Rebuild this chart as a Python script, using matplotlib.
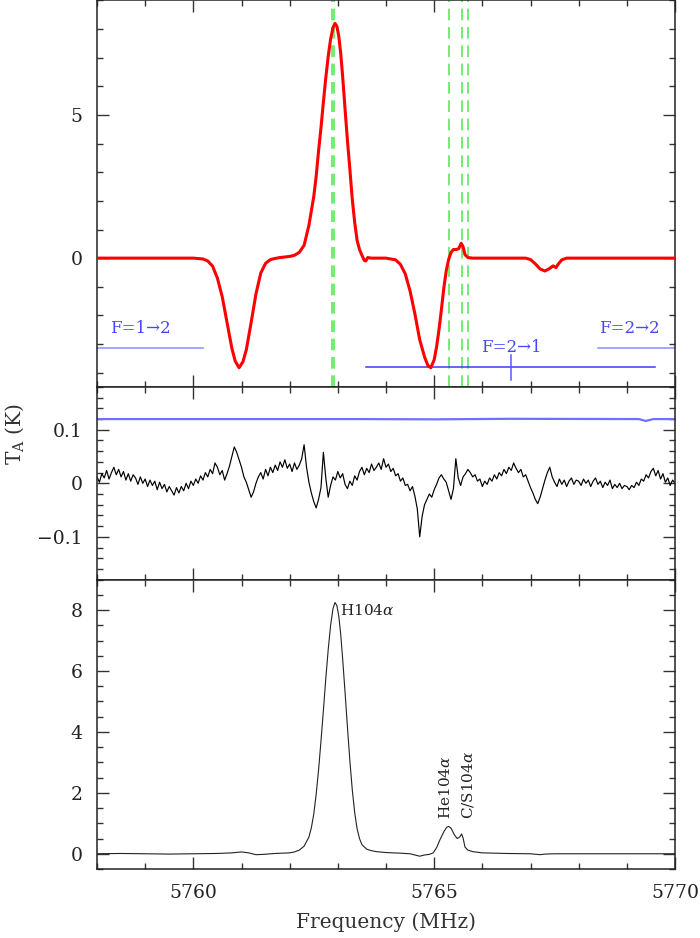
import numpy as np
import matplotlib
matplotlib.use("Agg")
import matplotlib.pyplot as plt
from matplotlib.ticker import MultipleLocator, FuncFormatter

plt.rcParams["font.family"] = "serif"
plt.rcParams["font.serif"] = ["DejaVu Serif"]
plt.rcParams["mathtext.fontset"] = "dejavuserif"

# ------------------------------------------------------------------ #
#  data                                        #
# ------------------------------------------------------------------ #
# top panel: frequency-switched model (red)
model_freq = [
    5758.0, 5759.0, 5760.0, 5760.2, 5760.3, 5760.4, 5760.5, 5760.6, 5760.7,
    5760.8, 5760.87, 5760.95, 5761.03, 5761.1, 5761.2, 5761.3, 5761.4, 5761.5,
    5761.6, 5761.7, 5761.8, 5761.9, 5762.0, 5762.1, 5762.2, 5762.3, 5762.4,
    5762.5, 5762.55, 5762.6, 5762.65, 5762.7, 5762.75, 5762.8, 5762.85, 5762.9,
    5762.94, 5762.98, 5763.02, 5763.06, 5763.1, 5763.15, 5763.2, 5763.25,
    5763.3, 5763.35, 5763.4, 5763.45, 5763.5, 5763.55, 5763.58, 5763.62,
    5763.7, 5764.0, 5764.2, 5764.3, 5764.4, 5764.5, 5764.6, 5764.7, 5764.8,
    5764.87, 5764.93, 5765.0, 5765.05, 5765.1, 5765.15, 5765.2, 5765.25,
    5765.3, 5765.35, 5765.4, 5765.46, 5765.51, 5765.56, 5765.6, 5765.64,
    5765.7, 5765.8, 5766.9, 5767.0, 5767.1, 5767.2, 5767.3, 5767.4, 5767.47,
    5767.53, 5767.58, 5767.65, 5767.75, 5770.0,
]
model_ta = [
    0.0, 0.0, 0.0, -0.03, -0.10, -0.28, -0.70, -1.35, -2.25,
    -3.15, -3.60, -3.83, -3.62, -3.20, -2.25, -1.25, -0.52, -0.18,
    -0.05, -0.01, 0.02, 0.04, 0.06, 0.10, 0.20, 0.45, 1.15,
    2.15, 2.85, 3.75, 4.55, 5.45, 6.30, 7.05, 7.65, 8.05,
    8.20, 8.10, 7.75, 7.15, 6.35, 5.20, 4.10, 3.10,
    2.05, 1.25, 0.62, 0.30, 0.10, -0.08, -0.10, 0.02,
    0.0, 0.0, -0.06, -0.22, -0.55, -1.15, -1.95, -2.85, -3.45,
    -3.75, -3.83, -3.55, -3.10, -2.50, -1.80, -1.05, -0.45,
    -0.05, 0.20, 0.30, 0.30, 0.33, 0.52, 0.40, 0.12,
    0.02, 0.0, 0.0, -0.05, -0.20, -0.38, -0.45, -0.36, -0.27,
    -0.33, -0.20, -0.06, 0.0, 0.0,
]

# recombination line rest positions (green dashed)
line_marks = [5762.885, 5762.926, 5765.31, 5765.57, 5765.70]

# hyperfine bars (blue)
hf_labels = ["F=1\u21922", "F=2\u21921", "F=2\u21922"]
hf_start = [5758.0, 5763.58, 5768.40]
hf_end = [5760.20, 5769.58, 5770.0]
hf_level = [-3.15, -3.82, -3.15]
hf_text_x = [5758.27, 5765.97, 5768.42]
hf_text_y = [-2.47, -3.12, -2.46]
hf_colors = ["#8c8cff", "#3a3aff", "#8c8cff"]
hf_tick_x = 5766.6
hf_tick_y = (-3.40, -4.25)

# middle panel: residual (black), 0.05 MHz channels
resid_freq = np.linspace(5758.0, 5770.0, 241)
resid_ta = [
    0.012, 0.002, 0.018, 0.010, 0.024, 0.008, 0.020, 0.030, 0.016, 0.026,
    0.012, 0.022, 0.006, 0.018, 0.004, 0.016, 0.010, -0.002, 0.012, 0.000,
    0.008, -0.006, 0.006, -0.004, 0.004, -0.012, 0.002, -0.010, -0.002, -0.016,
    -0.006, -0.014, -0.022, -0.008, -0.018, -0.006, -0.014, 0.000, -0.010, 0.004,
    -0.004, 0.008, 0.000, 0.014, 0.006, 0.020, 0.012, 0.026, 0.018, 0.038,
    0.030, 0.016, 0.024, 0.006, 0.018, 0.032, 0.050, 0.068, 0.058, 0.044,
    0.030, 0.012, 0.002, -0.012, -0.026, -0.016, 0.000, 0.012, 0.020, 0.008,
    0.026, 0.014, 0.030, 0.020, 0.034, 0.024, 0.040, 0.030, 0.044, 0.028,
    0.036, 0.022, 0.038, 0.026, 0.034, 0.046, 0.072, 0.030, 0.002, -0.018,
    -0.034, -0.046, -0.030, -0.008, 0.058, 0.010, -0.026, -0.004, 0.012, 0.006,
    0.022, 0.010, 0.018, -0.002, -0.010, 0.004, -0.004, 0.014, 0.006, 0.022,
    0.030, 0.016, 0.028, 0.020, 0.036, 0.024, 0.030, 0.038, 0.026, 0.046,
    0.030, 0.036, 0.022, 0.028, 0.014, 0.018, 0.004, 0.010, -0.004, -0.002,
    -0.014, -0.006, -0.024, -0.048, -0.100, -0.062, -0.040, -0.030, -0.020, -0.026,
    -0.012, -0.002, 0.010, 0.016, 0.008, 0.002, -0.014, -0.030, -0.010, 0.046,
    0.010, -0.004, 0.012, 0.018, 0.026, 0.020, 0.012, 0.016, 0.004, 0.008,
    -0.006, 0.004, -0.002, 0.010, 0.004, 0.016, 0.008, 0.020, 0.014, 0.026,
    0.018, 0.030, 0.024, 0.038, 0.028, 0.020, 0.026, 0.012, 0.016, 0.004,
    -0.008, -0.018, -0.030, -0.038, -0.026, -0.010, 0.006, 0.020, 0.030, 0.012,
    0.002, -0.006, 0.008, -0.002, 0.006, -0.006, 0.004, 0.010, -0.002, 0.006,
    0.004, -0.004, 0.008, 0.000, 0.006, -0.006, 0.004, 0.010, -0.002, 0.004,
    -0.008, 0.002, -0.004, 0.006, -0.010, -0.002, -0.008, 0.000, -0.010, -0.004,
    -0.006, -0.012, -0.004, -0.008, 0.002, -0.004, 0.008, 0.004, 0.016, 0.010,
    0.022, 0.028, 0.014, 0.024, 0.008, 0.018, 0.002, 0.010, -0.004, 0.006,
    0.000,
]

# middle panel: offset reference (blue)
ref_freq = [5758.0, 5763.4, 5765.0, 5766.6, 5769.25, 5769.33, 5769.39, 5769.46, 5769.55, 5770.0]
ref_ta = [0.120, 0.120, 0.1195, 0.1205, 0.120, 0.118, 0.1165, 0.118, 0.120, 0.120]

# bottom panel: observed spectrum
obs_freq = [
    5758.0, 5758.5, 5759.0, 5759.5, 5760.0, 5760.5, 5760.8, 5761.0, 5761.15,
    5761.3, 5761.45, 5761.7, 5762.0, 5762.1, 5762.2, 5762.3, 5762.4, 5762.45,
    5762.5, 5762.55, 5762.6, 5762.65, 5762.7, 5762.75, 5762.8, 5762.85, 5762.9,
    5762.94, 5762.98, 5763.02, 5763.06, 5763.1, 5763.15, 5763.2, 5763.25,
    5763.3, 5763.35, 5763.4, 5763.45, 5763.5, 5763.6, 5763.7, 5763.8, 5764.0,
    5764.3, 5764.5, 5764.65, 5764.7, 5764.8, 5764.9, 5764.98, 5765.05, 5765.12,
    5765.2, 5765.26, 5765.3, 5765.35, 5765.42, 5765.48, 5765.53, 5765.57,
    5765.6, 5765.64, 5765.7, 5765.8, 5766.0, 5766.5, 5767.0, 5767.2, 5767.3,
    5767.5, 5768.0, 5769.0, 5770.0,
]
obs_ta = [
    0.00, 0.01, 0.00, -0.01, 0.00, 0.01, 0.03, 0.06, 0.03,
    -0.03, -0.02, 0.01, 0.03, 0.06, 0.12, 0.25, 0.55, 0.85,
    1.30, 1.95, 2.75, 3.70, 4.70, 5.75, 6.70, 7.50, 8.05,
    8.25, 8.15, 7.80, 7.20, 6.40, 5.30, 4.15, 3.05,
    2.10, 1.35, 0.82, 0.50, 0.30, 0.15, 0.10, 0.07, 0.04,
    0.02, 0.00, -0.06, -0.08, -0.04, -0.02, 0.03, 0.20, 0.46,
    0.72, 0.87, 0.90, 0.84, 0.62, 0.50, 0.55, 0.65,
    0.52, 0.22, 0.12, 0.07, 0.03, 0.01, 0.00, -0.03, -0.01,
    0.00, 0.00, 0.00, 0.00,
]

line_names = ["H104$\\alpha$", "He104$\\alpha$", "C/S104$\\alpha$"]
line_name_x = [5763.05, 5765.24, 5765.70]
line_name_y = [8.0, 1.14, 1.14]
line_name_rot = [0, 90, 90]

# ------------------------------------------------------------------ #
#  figure                                                             #
# ------------------------------------------------------------------ #
fig = plt.figure(figsize=(7.0, 9.38), dpi=100)
gs = fig.add_gridspec(3, 1, height_ratios=[386.7, 192.8, 289.5], hspace=0,
                      left=97 / 700, right=675 / 700, top=0.9995, bottom=1 - 869 / 938)
ax_top = fig.add_subplot(gs[0])
ax_mid = fig.add_subplot(gs[1], sharex=ax_top)
ax_bot = fig.add_subplot(gs[2], sharex=ax_top)

fmt = FuncFormatter(lambda v, p: ("%g" % round(v, 6)).replace("-", "\u2212"))
for ax in (ax_top, ax_mid, ax_bot):
    ax.tick_params(which="both", direction="in", top=True, right=True,
                   color="#333333", labelcolor="#222222", labelsize=13.5, pad=10.5)
    ax.tick_params(which="major", length=8.6, width=1.0)
    ax.tick_params(which="minor", length=4.0, width=1.0)
    ax.xaxis.set_major_locator(MultipleLocator(5))
    ax.xaxis.set_minor_locator(MultipleLocator(1))
    ax.yaxis.set_major_formatter(fmt)
    for s in ax.spines.values():
        s.set_linewidth(1.1)
        s.set_color("#222222")

ax_top.set_xlim(5758, 5770)

# top panel
for xm in line_marks:
    ax_top.axvline(xm, color="#5ce65c", lw=1.2, ls=(0, (7, 4)), zorder=1)
ax_top.plot(model_freq, model_ta, color="red", lw=2.2, zorder=3)
for i, lab in enumerate(hf_labels):
    ax_top.plot([hf_start[i], hf_end[i]], [hf_level[i], hf_level[i]],
                color=hf_colors[i], lw=1.1, zorder=2)
    ax_top.text(hf_text_x[i], hf_text_y[i], lab, color="#4646ff", fontsize=12,
                ha="left", va="center")
ax_top.plot([hf_tick_x, hf_tick_x], hf_tick_y, color="#5a5aff", lw=1.1)
ax_top.set_ylim(-4.5, 9.0)
ax_top.yaxis.set_major_locator(MultipleLocator(5))
ax_top.yaxis.set_minor_locator(MultipleLocator(1))
ax_top.tick_params(labelbottom=False)

# middle panel
ax_mid.plot(ref_freq, ref_ta, color="#7070ff", lw=1.6)
ax_mid.plot(resid_freq, resid_ta, color="black", lw=0.85)
ax_mid.set_ylim(-0.18, 0.18)
ax_mid.yaxis.set_major_locator(MultipleLocator(0.1))
ax_mid.yaxis.set_minor_locator(MultipleLocator(0.02))
ax_mid.tick_params(labelbottom=False)

# bottom panel
ax_bot.plot(obs_freq, obs_ta, color="#222222", lw=0.8)
for i, name in enumerate(line_names):
    ax_bot.text(line_name_x[i], line_name_y[i], name, rotation=line_name_rot[i],
                fontsize=11, color="#222222",
                ha="left" if line_name_rot[i] == 0 else "center",
                va="center" if line_name_rot[i] == 0 else "bottom")
ax_bot.set_ylim(-0.5, 9.0)
ax_bot.yaxis.set_major_locator(MultipleLocator(2))
ax_bot.yaxis.set_minor_locator(MultipleLocator(0.5))
ax_bot.set_xlabel("Frequency (MHz)", fontsize=14.5, labelpad=8, color="#333333")

fig.text(15 / 700, 1 - 434.5 / 938, "T$_\\mathrm{A}$ (K)", rotation=90,
         ha="center", va="center", fontsize=14.5, color="#333333")

fig.savefig("out.png", dpi=100)
